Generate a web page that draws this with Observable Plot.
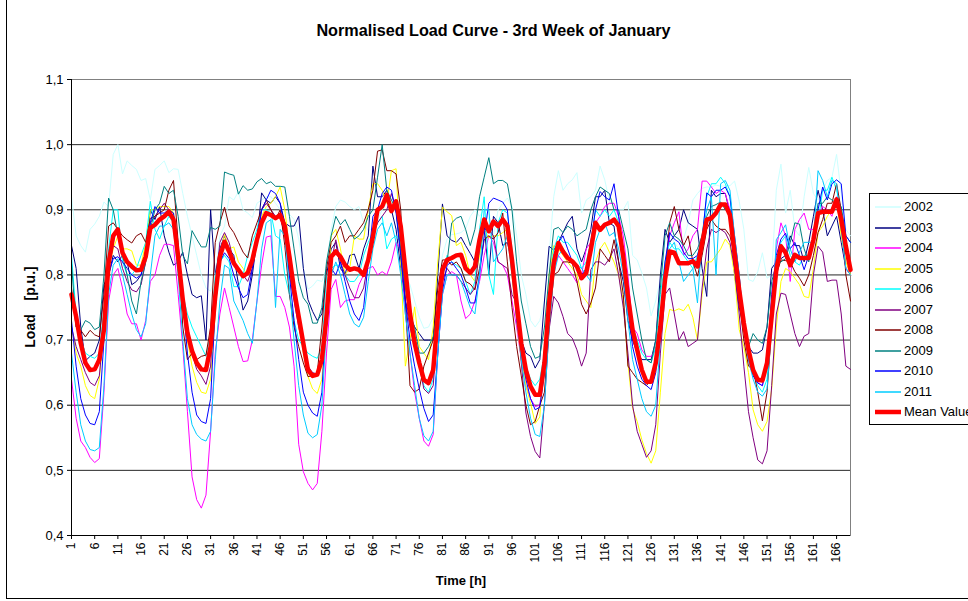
<!DOCTYPE html>
<html><head><meta charset="utf-8">
<script src="https://cdn.jsdelivr.net/npm/d3@7"></script>
<script src="https://cdn.jsdelivr.net/npm/@observablehq/plot@0.6"></script>
<style>
body{margin:0;background:#fff;font-family:"Liberation Sans",Arial,sans-serif;color:#000;}
#wrap{position:relative;width:968px;height:601px;overflow:hidden;background:#fff;}
#chart{position:absolute;left:0;top:0;}
#outer{position:absolute;left:6px;top:-1px;width:1200px;height:600px;border:1px solid #000;box-sizing:border-box;pointer-events:none;}
#title{position:absolute;left:0;width:987px;top:22px;line-height:16px;text-align:center;font-weight:bold;font-size:16.2px;}
#ylab{position:absolute;left:30px;top:307px;transform:translate(-50%,-50%) rotate(-90deg);font-weight:bold;font-size:14px;white-space:pre;word-spacing:3px;}
#xlab{position:absolute;left:461px;top:580px;transform:translate(-50%,-50%);font-weight:bold;font-size:13px;white-space:pre;}
#legend{position:absolute;left:869px;top:193px;width:140px;height:232px;border:1px solid #000;box-sizing:border-box;background:#fff;padding-top:3px;}
.row{height:20.5px;line-height:20.5px;font-size:13px;white-space:nowrap;display:flex;align-items:center;}
.row svg{margin-left:5px;margin-right:3px;}
</style></head><body>
<div id="wrap">
  <div id="chart"></div>
  <div id="title">Normalised Load Curve - 3rd Week of January</div>
  <div id="ylab">Load  [p.u.]</div>
  <div id="xlab">Time [h]</div>
  <div id="legend"></div>
  <div id="outer"></div>
</div>
<script>
// ---- categories / ticks ----
const hours = Array.from({length: 169}, (_, i) => i + 1);
const xTicks = [1,6,11,16,21,26,31,36,41,46,51,56,61,66,71,76,81,86,91,96,101,106,111,116,121,126,131,136,141,146,151,156,161,166];
const yTicks = [0.4,0.5,0.6,0.7,0.8,0.9,1.0,1.1];
const seriesNames = ["2002","2003","2004","2005","2006","2007","2008","2009","2010","2011"];
const seriesColors = ["#CCFFFF","#000080","#FF00FF","#FFFF00","#00FFFF","#800080","#800000","#008080","#0000FF","#00CCFF"];

// ---- series values (hourly, p.u.) ----
const y2002 = [
0.92,0.86,0.845,0.835,0.87,0.878,0.89,0.912,0.905,0.985,1.0,0.955,0.975,0.968,0.962,0.945,0.948,0.915,0.962,0.968,0.975,0.957,0.963,0.962,
0.925,0.89,0.86,0.83,0.8,0.78,0.775,0.8,0.86,0.875,0.92,0.915,0.928,0.9,0.895,0.888,0.91,0.915,0.92,0.92,0.91,0.9,0.898,0.893,
0.885,0.855,0.81,0.778,0.783,0.792,0.79,0.81,0.87,0.905,0.915,0.912,0.905,0.9,0.905,0.88,0.868,0.872,0.885,0.9,0.91,0.905,0.9,0.89,
0.8,0.785,0.76,0.735,0.718,0.72,0.735,0.78,0.83,0.855,0.862,0.863,0.865,0.871,0.89,0.9,0.89,0.9,0.885,0.86,0.9,0.91,0.918,0.905,
0.86,0.8,0.77,0.73,0.72,0.73,0.76,0.83,0.92,0.96,0.93,0.94,0.946,0.957,0.895,0.915,0.92,0.93,0.967,0.946,0.913,0.908,0.9,0.9,
0.913,0.83,0.823,0.803,0.78,0.737,0.76,0.793,0.85,0.865,0.85,0.84,0.855,0.88,0.915,0.925,0.933,0.935,0.935,0.938,0.936,0.937,0.937,0.944,
0.913,0.87,0.793,0.79,0.805,0.834,0.795,0.8,0.93,0.97,0.895,0.93,0.87,0.86,0.92,0.965,0.925,0.915,0.93,0.945,0.95,0.985,0.925,0.87,0.86];
const y2003 = [
0.845,0.81,0.72,0.668,0.675,0.68,0.7,0.785,0.8,0.83,0.82,0.83,0.82,0.785,0.79,0.8,0.83,0.9,0.885,0.905,0.86,0.835,0.815,0.82,
0.835,0.8,0.77,0.765,0.768,0.7,0.9,0.8,0.84,0.86,0.84,0.83,0.786,0.746,0.76,0.8,0.854,0.926,0.915,0.91,0.92,0.91,0.88,0.875,
0.875,0.89,0.81,0.762,0.744,0.73,0.74,0.8,0.84,0.85,0.81,0.8,0.83,0.832,0.81,0.84,0.86,0.967,0.92,0.92,0.93,0.9,0.87,0.81,
0.76,0.735,0.72,0.71,0.7,0.7,0.7,0.8,0.909,0.86,0.853,0.85,0.858,0.845,0.833,0.82,0.86,0.875,0.8,0.89,0.88,0.845,0.85,0.82,
0.75,0.7,0.68,0.675,0.657,0.67,0.76,0.844,0.838,0.85,0.865,0.88,0.89,0.84,0.82,0.84,0.87,0.92,0.92,0.93,0.88,0.875,0.82,0.79,
0.73,0.7,0.68,0.67,0.67,0.67,0.7,0.8,0.87,0.85,0.86,0.87,0.9,0.88,0.875,0.87,0.81,0.767,0.93,0.92,0.925,0.925,0.895,0.8,
0.75,0.72,0.69,0.68,0.68,0.685,0.72,0.81,0.82,0.825,0.83,0.86,0.845,0.845,0.82,0.85,0.89,0.93,0.9,0.86,0.875,0.89,0.85,0.81,0.8];
const y2004 = [
0.64,0.58,0.545,0.535,0.52,0.512,0.518,0.62,0.76,0.8,0.81,0.78,0.74,0.725,0.725,0.7,0.73,0.79,0.8,0.83,0.847,0.847,0.845,0.77,
0.69,0.59,0.49,0.455,0.442,0.462,0.56,0.68,0.74,0.78,0.75,0.72,0.69,0.667,0.668,0.7,0.76,0.815,0.858,0.86,0.767,0.767,0.75,0.72,
0.66,0.54,0.498,0.48,0.47,0.48,0.56,0.68,0.778,0.793,0.75,0.76,0.762,0.762,0.785,0.8,0.81,0.813,0.8,0.805,0.8,0.82,0.85,0.84,
0.74,0.68,0.62,0.58,0.545,0.537,0.555,0.68,0.77,0.8,0.805,0.8,0.76,0.733,0.74,0.76,0.79,0.83,0.86,0.85,0.82,0.815,0.8,0.76,
0.72,0.67,0.63,0.61,0.598,0.6,0.66,0.75,0.81,0.83,0.82,0.81,0.8,0.788,0.8,0.84,0.85,0.88,0.89,0.905,0.91,0.91,0.89,0.86,
0.8,0.72,0.71,0.685,0.675,0.675,0.685,0.73,0.8,0.86,0.88,0.897,0.83,0.84,0.86,0.87,0.944,0.944,0.935,0.925,0.93,0.925,0.9,0.85,
0.78,0.72,0.68,0.65,0.635,0.63,0.68,0.76,0.84,0.88,0.86,0.79,0.87,0.885,0.895,0.87,0.87,0.89,0.905,0.9,0.89,0.92,0.87,0.81,0.8];
const y2005 = [
0.72,0.68,0.66,0.63,0.615,0.61,0.64,0.72,0.81,0.84,0.86,0.84,0.84,0.837,0.815,0.815,0.85,0.9,0.9,0.905,0.905,0.905,0.895,0.845,
0.76,0.7,0.66,0.635,0.62,0.618,0.64,0.74,0.83,0.862,0.84,0.843,0.82,0.81,0.8,0.82,0.86,0.89,0.905,0.91,0.92,0.935,0.9,0.84,
0.79,0.73,0.68,0.644,0.625,0.618,0.64,0.74,0.86,0.87,0.84,0.8,0.81,0.86,0.855,0.855,0.9,0.94,0.94,0.93,0.91,0.96,0.963,0.82,
0.66,0.7,0.751,0.69,0.68,0.67,0.72,0.82,0.904,0.897,0.891,0.845,0.85,0.83,0.8,0.79,0.83,0.87,0.857,0.86,0.86,0.865,0.87,0.8,
0.73,0.67,0.63,0.603,0.572,0.582,0.69,0.8,0.845,0.84,0.83,0.82,0.81,0.8,0.77,0.76,0.75,0.82,0.84,0.85,0.835,0.82,0.8,0.76,
0.665,0.595,0.575,0.547,0.526,0.511,0.53,0.62,0.71,0.747,0.745,0.748,0.745,0.755,0.735,0.7,0.77,0.82,0.82,0.83,0.84,0.855,0.845,0.8,
0.716,0.69,0.65,0.593,0.57,0.56,0.575,0.625,0.72,0.79,0.81,0.805,0.795,0.785,0.767,0.765,0.81,0.865,0.875,0.89,0.9,0.915,0.86,0.82,0.8];
const y2006 = [
0.83,0.74,0.7,0.68,0.675,0.672,0.68,0.75,0.84,0.9,0.9,0.82,0.8,0.8,0.81,0.83,0.85,0.913,0.87,0.855,0.875,0.89,0.88,0.83,
0.77,0.74,0.72,0.705,0.69,0.675,0.71,0.8,0.82,0.83,0.82,0.782,0.782,0.8,0.83,0.85,0.87,0.9,0.9,0.895,0.86,0.855,0.8,0.77,
0.73,0.7,0.69,0.68,0.675,0.672,0.69,0.8,0.81,0.815,0.815,0.8,0.79,0.79,0.8,0.83,0.85,0.865,0.88,0.89,0.84,0.855,0.86,0.85,
0.79,0.74,0.7,0.66,0.63,0.62,0.64,0.73,0.8,0.83,0.82,0.815,0.81,0.79,0.77,0.79,0.87,0.92,0.8,0.77,0.88,0.9,0.895,0.84,
0.77,0.7,0.66,0.64,0.63,0.64,0.68,0.78,0.84,0.86,0.85,0.85,0.84,0.83,0.81,0.82,0.85,0.9,0.89,0.9,0.89,0.9,0.88,0.83,
0.77,0.72,0.7,0.68,0.67,0.665,0.69,0.77,0.82,0.85,0.84,0.84,0.83,0.82,0.81,0.83,0.86,0.92,0.94,0.94,0.95,0.94,0.92,0.85,
0.78,0.73,0.68,0.65,0.63,0.62,0.64,0.72,0.8,0.85,0.86,0.83,0.82,0.815,0.83,0.83,0.85,0.88,0.93,0.93,0.95,0.93,0.9,0.85,0.82];
const y2007 = [
0.72,0.69,0.67,0.65,0.635,0.63,0.645,0.72,0.81,0.845,0.84,0.81,0.79,0.777,0.774,0.785,0.82,0.88,0.89,0.9,0.91,0.9,0.88,0.81,
0.75,0.71,0.68,0.655,0.645,0.632,0.66,0.78,0.85,0.865,0.85,0.82,0.81,0.8,0.79,0.81,0.86,0.9,0.91,0.9,0.89,0.89,0.86,0.8,
0.76,0.72,0.69,0.66,0.65,0.648,0.67,0.76,0.82,0.854,0.82,0.8,0.78,0.765,0.765,0.78,0.82,0.86,0.88,0.89,0.9,0.925,0.9,0.83,
0.76,0.72,0.69,0.66,0.625,0.618,0.63,0.72,0.79,0.81,0.8,0.8,0.79,0.78,0.77,0.78,0.84,0.87,0.87,0.86,0.82,0.815,0.81,0.77,
0.757,0.665,0.588,0.552,0.529,0.519,0.603,0.716,0.767,0.757,0.736,0.71,0.703,0.685,0.66,0.68,0.808,0.82,0.82,0.815,0.825,0.84,0.8,0.75,
0.68,0.6,0.56,0.54,0.52,0.53,0.57,0.68,0.77,0.78,0.74,0.7,0.713,0.69,0.695,0.7,0.78,0.84,0.87,0.865,0.87,0.865,0.85,0.81,
0.74,0.66,0.59,0.55,0.516,0.51,0.53,0.63,0.74,0.772,0.77,0.74,0.71,0.69,0.706,0.71,0.8,0.844,0.835,0.79,0.792,0.792,0.74,0.66,0.655];
const y2008 = [
0.78,0.72,0.715,0.705,0.715,0.708,0.705,0.77,0.875,0.88,0.87,0.86,0.854,0.849,0.86,0.864,0.85,0.887,0.89,0.895,0.9,0.93,0.945,0.85,
0.72,0.67,0.68,0.67,0.675,0.677,0.72,0.85,0.88,0.904,0.875,0.865,0.85,0.835,0.826,0.86,0.88,0.9,0.915,0.9,0.885,0.9,0.845,0.77,
0.72,0.69,0.665,0.644,0.645,0.65,0.72,0.81,0.85,0.86,0.875,0.85,0.86,0.86,0.87,0.88,0.9,0.93,0.99,0.992,0.96,0.96,0.955,0.9,
0.76,0.63,0.62,0.625,0.66,0.68,0.7,0.78,0.823,0.823,0.815,0.82,0.81,0.79,0.786,0.777,0.81,0.854,0.86,0.855,0.865,0.895,0.82,0.75,
0.69,0.645,0.6,0.57,0.575,0.6,0.62,0.72,0.8,0.805,0.82,0.82,0.818,0.79,0.755,0.74,0.757,0.78,0.84,0.83,0.82,0.854,0.82,0.77,
0.66,0.65,0.64,0.635,0.63,0.64,0.67,0.72,0.8,0.88,0.905,0.87,0.845,0.86,0.82,0.798,0.83,0.87,0.885,0.875,0.87,0.87,0.86,0.83,
0.76,0.7,0.66,0.655,0.62,0.576,0.62,0.72,0.8,0.823,0.822,0.82,0.805,0.795,0.783,0.8,0.83,0.865,0.885,0.91,0.91,0.94,0.9,0.8,0.76];
const y2009 = [
0.818,0.72,0.716,0.73,0.726,0.716,0.72,0.8,0.918,0.9,0.86,0.83,0.8,0.76,0.74,0.79,0.82,0.87,0.9,0.91,0.936,0.925,0.93,0.89,
0.83,0.817,0.868,0.855,0.843,0.843,0.873,0.87,0.875,0.958,0.955,0.953,0.924,0.937,0.93,0.932,0.943,0.948,0.94,0.943,0.936,0.936,0.935,0.89,
0.84,0.79,0.765,0.755,0.726,0.726,0.75,0.82,0.86,0.89,0.877,0.885,0.87,0.855,0.86,0.87,0.89,0.9,0.95,1.0,0.93,0.915,0.9,0.84,
0.78,0.74,0.72,0.68,0.68,0.69,0.705,0.75,0.8,0.82,0.88,0.887,0.89,0.87,0.845,0.87,0.92,0.95,0.98,0.94,0.945,0.945,0.94,0.9,
0.82,0.76,0.725,0.69,0.672,0.675,0.72,0.8,0.87,0.873,0.865,0.875,0.87,0.86,0.865,0.87,0.9,0.92,0.935,0.93,0.925,0.9,0.9,0.87,
0.84,0.78,0.74,0.7,0.67,0.665,0.7,0.78,0.86,0.88,0.86,0.855,0.845,0.83,0.83,0.84,0.86,0.89,0.905,0.908,0.912,0.9,0.9,0.85,
0.79,0.72,0.69,0.71,0.7,0.695,0.72,0.79,0.815,0.82,0.825,0.85,0.88,0.878,0.84,0.82,0.86,0.91,0.91,0.92,0.915,0.91,0.905,0.86,0.85];
const y2010 = [
0.73,0.66,0.61,0.585,0.572,0.57,0.59,0.7,0.8,0.825,0.828,0.82,0.81,0.8,0.795,0.8,0.83,0.88,0.905,0.895,0.895,0.9,0.895,0.84,
0.76,0.68,0.62,0.585,0.575,0.572,0.61,0.75,0.82,0.834,0.825,0.8,0.78,0.765,0.77,0.81,0.85,0.9,0.915,0.93,0.925,0.91,0.87,0.8,
0.73,0.67,0.62,0.6,0.588,0.583,0.62,0.75,0.81,0.8,0.82,0.79,0.76,0.74,0.73,0.75,0.82,0.89,0.9,0.925,0.935,0.93,0.895,0.83,
0.76,0.7,0.66,0.625,0.595,0.575,0.585,0.68,0.775,0.815,0.82,0.81,0.8,0.78,0.757,0.757,0.8,0.86,0.91,0.918,0.915,0.912,0.9,0.82,
0.73,0.68,0.64,0.61,0.593,0.597,0.65,0.77,0.83,0.85,0.86,0.84,0.82,0.81,0.8,0.81,0.85,0.9,0.928,0.92,0.915,0.94,0.89,0.83,
0.75,0.69,0.66,0.64,0.63,0.624,0.65,0.73,0.82,0.865,0.855,0.85,0.835,0.825,0.825,0.83,0.855,0.926,0.92,0.93,0.93,0.935,0.92,0.86,
0.8,0.72,0.67,0.645,0.634,0.63,0.66,0.77,0.83,0.855,0.864,0.84,0.85,0.83,0.808,0.83,0.85,0.9,0.935,0.915,0.94,0.946,0.94,0.86,0.85];
const y2011 = [
0.68,0.62,0.57,0.545,0.532,0.53,0.535,0.63,0.77,0.815,0.825,0.8,0.77,0.74,0.716,0.705,0.725,0.8,0.86,0.875,0.875,0.88,0.87,0.8,
0.7,0.61,0.57,0.555,0.548,0.545,0.56,0.67,0.76,0.815,0.81,0.76,0.745,0.73,0.71,0.695,0.76,0.84,0.88,0.885,0.75,0.87,0.86,0.78,
0.7,0.63,0.585,0.557,0.55,0.555,0.6,0.72,0.8,0.82,0.8,0.77,0.74,0.725,0.72,0.735,0.79,0.84,0.87,0.88,0.86,0.88,0.85,0.8,
0.74,0.68,0.63,0.58,0.553,0.545,0.56,0.68,0.77,0.8,0.8,0.8,0.79,0.77,0.75,0.74,0.8,0.9,0.9,0.82,0.83,0.84,0.86,0.8,
0.74,0.67,0.62,0.58,0.555,0.552,0.6,0.72,0.8,0.83,0.84,0.83,0.82,0.815,0.81,0.8,0.79,0.85,0.87,0.88,0.86,0.865,0.84,0.8,
0.73,0.67,0.64,0.61,0.59,0.583,0.6,0.7,0.8,0.84,0.85,0.82,0.79,0.8,0.81,0.757,0.86,0.9,0.92,0.8,0.94,0.945,0.93,0.86,
0.8,0.72,0.67,0.64,0.62,0.614,0.625,0.72,0.854,0.865,0.877,0.84,0.82,0.835,0.85,0.85,0.85,0.96,0.945,0.92,0.945,0.94,0.87,0.81,0.8];
const meanValue = [
0.77,0.736,0.695,0.665,0.654,0.655,0.67,0.716,0.818,0.86,0.87,0.834,0.82,0.813,0.807,0.808,0.828,0.872,0.877,0.885,0.89,0.897,0.885,0.828,
0.762,0.711,0.683,0.665,0.655,0.654,0.69,0.767,0.828,0.851,0.836,0.818,0.808,0.798,0.803,0.823,0.854,0.88,0.895,0.892,0.887,0.892,0.875,0.828,
0.777,0.736,0.695,0.654,0.645,0.647,0.67,0.736,0.828,0.836,0.828,0.815,0.808,0.81,0.808,0.8,0.823,0.859,0.9,0.905,0.923,0.898,0.913,0.875,
0.808,0.741,0.695,0.665,0.639,0.634,0.654,0.736,0.808,0.823,0.826,0.83,0.831,0.81,0.803,0.813,0.854,0.885,0.867,0.882,0.875,0.885,0.875,0.823,
0.757,0.695,0.654,0.629,0.616,0.616,0.665,0.757,0.818,0.849,0.836,0.826,0.821,0.813,0.795,0.803,0.839,0.88,0.869,0.877,0.88,0.885,0.875,0.828,
0.767,0.716,0.685,0.654,0.636,0.636,0.665,0.721,0.793,0.836,0.834,0.818,0.818,0.818,0.821,0.813,0.849,0.885,0.887,0.895,0.908,0.908,0.892,0.834,
0.777,0.726,0.685,0.654,0.639,0.638,0.665,0.736,0.808,0.844,0.834,0.815,0.831,0.826,0.826,0.826,0.854,0.895,0.897,0.897,0.897,0.916,0.885,0.844,0.808];

const seriesValues = [y2002,y2003,y2004,y2005,y2006,y2007,y2008,y2009,y2010,y2011];
seriesValues.concat([meanValue]).forEach((a, i) => {
  if (a.length !== hours.length) throw new Error("series " + i + " has " + a.length + " values");
});

const rows = seriesNames.flatMap((name, i) => seriesValues[i].map((v, j) => ({hour: hours[j], load: v, series: name})));
const meanRows = meanValue.map((v, j) => ({hour: hours[j], load: v}));
const fmtY = d => d.toFixed(1).replace(".", ",");

const chart = Plot.plot({
  width: 968, height: 601,
  marginTop: 79, marginBottom: 66, marginLeft: 71, marginRight: 118,
  style: {fontFamily: "'Liberation Sans', Arial, sans-serif", fontSize: "12px", color: "#000", background: "transparent"},
  x: {type: "linear", domain: [1, 169]},
  y: {domain: [0.4, 1.1]},
  color: {domain: seriesNames, range: seriesColors},
  marks: [
    Plot.gridY(yTicks, {stroke: "#000", strokeOpacity: 0.85}),
    Plot.frame({stroke: "#808080"}),
    Plot.line(rows, {x: "hour", y: "load", z: "series", stroke: "series", strokeWidth: 1}),
    Plot.line(meanRows, {x: "hour", y: "load", stroke: "#FF0000", strokeWidth: 4.5}),
    Plot.ruleX([1], {stroke: "#000"}),
    Plot.ruleY([0.4], {stroke: "#000"}),
    Plot.axisX(xTicks, {tickRotate: -90, tickSize: 4, tickPadding: 3, fontSize: 12, label: null, tickFormat: d => String(d)}),
    Plot.axisY(yTicks, {tickSize: 4, tickPadding: 4, fontSize: 13, label: null, tickFormat: fmtY})
  ]
});
document.getElementById("chart").appendChild(chart);

// ---- legend ----
const legend = document.getElementById("legend");
seriesNames.concat(["Mean Value"]).forEach((name, i) => {
  const isMean = i === seriesNames.length;
  const color = isMean ? "#FF0000" : seriesColors[i];
  const row = document.createElement("div");
  row.className = "row";
  row.innerHTML = `<svg width="26" height="8"><line x1="0" x2="26" y1="4" y2="4" stroke="${color}" stroke-width="${isMean ? 4.5 : 1.5}"/></svg><span>${name}</span>`;
  legend.appendChild(row);
});
</script>
</body></html>
